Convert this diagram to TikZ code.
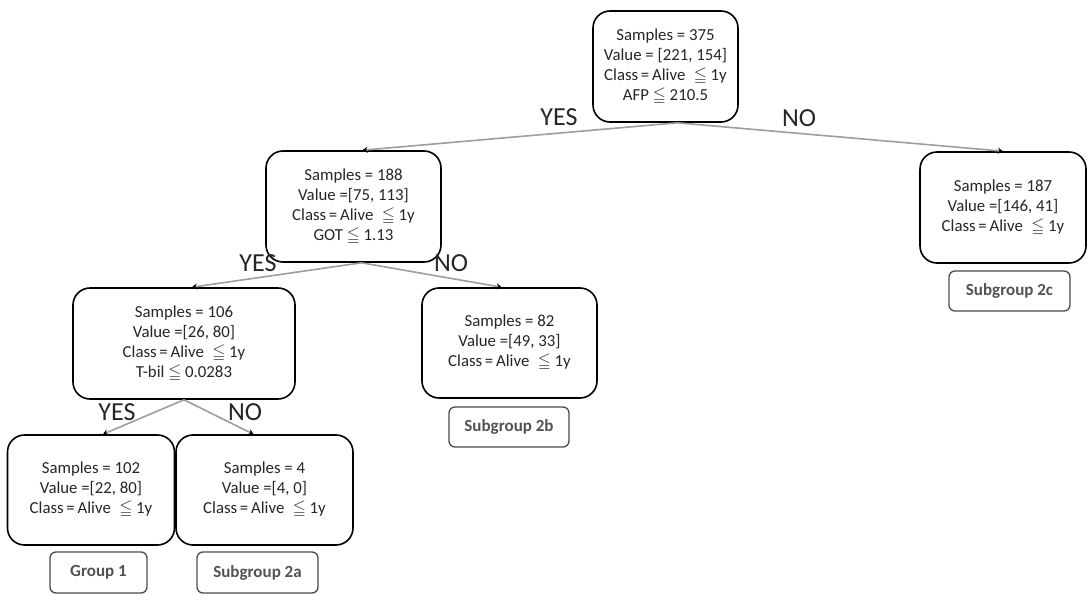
\documentclass[tikz,border=0pt]{standalone}
\usepackage{amssymb}
\usepackage{fontspec}
\setmainfont{Carlito}
\usetikzlibrary{arrows.meta}
\tikzset{
  treebox/.style={draw=black, line width=1.6pt, rounded corners=17pt, align=center,
    font=\fontsize{16.8}{20}\selectfont, text=black!85, inner sep=0pt, fill=white},
  grpbox/.style={draw=black!70, line width=1.3pt, rounded corners=6pt, align=center,
    font=\bfseries\fontsize{17}{18}\selectfont, text=black!68, inner sep=0pt},
  edge/.style={draw=black!38, line width=1.6pt, -{Stealth[black,length=5pt,width=6pt]}},
  lbl/.style={font=\fontsize{26}{28}\selectfont, inner sep=0pt, text=black!85}
}
\begin{document}
\begin{tikzpicture}[x=1pt,y=-1pt]
\useasboundingbox (0,0) rectangle (1088,594);
\fill[white] (0,0) rectangle (1088,594);

\node[treebox, minimum width=145pt, minimum height=111pt] (root) at (665.5,66.5)
  {Samples = 375\\Value = [221, 154]\\Class\,=\,Alive\enspace$\leqq$ 1y\\AFP $\leqq$ 210.5};
\node[treebox, minimum width=175pt, minimum height=111pt] (n188) at (353.5,206.5)
  {Samples = 188\\Value =[75, 113]\\Class\,=\,Alive\enspace$\leqq$ 1y\\GOT $\leqq$ 1.13};
\node[treebox, minimum width=166pt, minimum height=111pt] (n187) at (1003,207.5)
  {Samples = 187\\Value =[146, 41]\\Class\,=\,Alive\enspace$\leqq$ 1y};
\node[treebox, minimum width=222pt, minimum height=111pt] (n106) at (184,343.5)
  {Samples = 106\\Value =[26, 80]\\Class\,=\,Alive\enspace$\leqq$ 1y\\T-bil $\leqq$ 0.0283};
\node[treebox, minimum width=175pt, minimum height=110pt] (n82) at (509.5,343)
  {Samples = 82\\Value =[49, 33]\\Class\,=\,Alive\enspace$\leqq$ 1y};
\node[treebox, minimum width=167pt, minimum height=110pt] (n102) at (91,490)
  {Samples = 102\\Value =[22, 80]\\Class\,=\,Alive\enspace$\leqq$ 1y};
\node[treebox, minimum width=177pt, minimum height=110pt] (n4) at (264.5,490)
  {Samples = 4\\Value =[4, 0]\\Class\,=\,Alive\enspace$\leqq$ 1y};

\node[grpbox, minimum width=97pt, minimum height=41pt] (g1) at (98.5,572.5) {Group 1};
\node[grpbox, minimum width=121pt, minimum height=41pt] (g2a) at (257.5,572.5) {Subgroup 2a};
\node[grpbox, minimum width=120pt, minimum height=40pt] (g2b) at (509,427) {Subgroup 2b};
\node[grpbox, minimum width=121pt, minimum height=40pt] (g2c) at (1009.5,291) {Subgroup 2c};

\draw[edge] ([xshift=12pt]root.south) -- ([xshift=9pt]n188.north);
\draw[edge] ([xshift=12pt]root.south) -- (n187.north);
\draw[edge] ([xshift=8pt]n188.south) -- ([xshift=8pt]n106.north);
\draw[edge] ([xshift=8pt]n188.south) -- ([xshift=-8pt]n82.north);
\draw[edge] (n106.south) -- ([xshift=12pt]n102.north);
\draw[edge] (n106.south) -- ([xshift=-11pt]n4.north);

\node[lbl] (y1) at (559,117) {YES};
\node[lbl] (o1) at (799,118) {NO};
\node[lbl] (y2) at (258,263) {YES};
\node[lbl] (o2) at (451,263) {NO};
\node[lbl] (y3) at (117,412) {YES};
\node[lbl] (o3) at (245,412) {NO};
\end{tikzpicture}
\end{document}
